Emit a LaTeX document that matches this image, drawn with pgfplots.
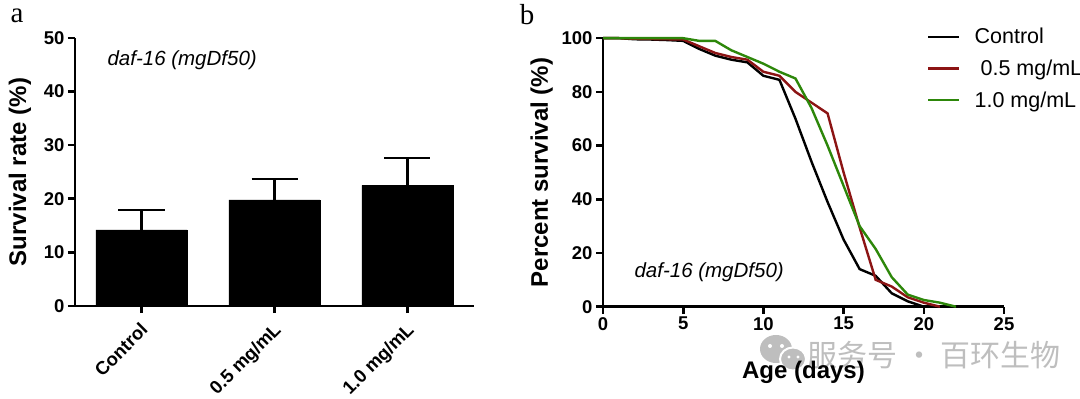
\documentclass[border=0pt]{standalone}
\usepackage{pgfplots}
\pgfplotsset{compat=1.18}
\usepackage{fontspec}
\setmainfont{Liberation Sans}
\newfontfamily\serifletter{Liberation Serif}
\newfontfamily\cjk{Noto Sans CJK SC}
\definecolor{cred}{RGB}{140,20,20}
\definecolor{cgreen}{RGB}{45,135,10}
\definecolor{wm}{RGB}{190,190,190}
\newcommand{\fs}[1]{\fontsize{#1}{#1}\selectfont}

\begin{document}
\begin{tikzpicture}[x=1pt,y=1pt]
\path[use as bounding box] (0pt,0pt) rectangle (1080pt,399pt);

% watermark (drawn first, behind the chart)
\fill[wm] (776pt,50pt) ellipse (16pt and 14pt);
\fill[wm, draw=white, line width=2pt] (793pt,40pt) ellipse (13pt and 11.5pt);
\fill[white] (770pt,53pt) circle (2pt) (782pt,53pt) circle (2pt) (789pt,42pt) circle (1.6pt) (798pt,42pt) circle (1.6pt);
\node[wm, font=\cjk\fs{30}, anchor=west] at (804pt,44pt) {服务号 · 百环生物};

\pgfplotsset{
  mystyle/.style={
    scale only axis,
    axis lines=left,
    axis line style={-, line width=2.6pt, black},
    tick style={line width=2.6pt, black},
    major tick length=7pt,
    tick align=outside,
    ticklabel style={font=\bfseries\fs{18.5}},
    /pgf/number format/assume math mode=true,
    label style={font=\bfseries\fs{24}},
  }
}

% ---------- panel a ----------
\begin{axis}[mystyle,
  at={(75pt,93pt)}, anchor=south west,
  width=399pt, height=268pt,
  xmin=-0.5, xmax=2.5, ymin=0, ymax=50,
  xtick={0,1,2}, xticklabels={Control,0.5 mg/mL,1.0 mg/mL},
  xticklabel style={rotate=45, anchor=north east, xshift=-4pt, yshift=-1pt},
  ytick={0,10,...,50},
  ylabel={Survival rate (\%)},
  ylabel style={yshift=6pt},
  clip=false,
]
\addplot[ybar, bar width=91pt, fill=black, draw=black,
  error bars/.cd, y dir=plus, y explicit, error mark=|,
  error bar style={line width=2.6pt, black},
  error mark options={line width=2.6pt, mark size=23pt, black}]
 coordinates {(0,14.2) +- (0,3.7) (1,19.8) +- (0,3.9) (2,22.5) +- (0,5.1)};
\end{axis}

% ---------- panel b ----------
\begin{axis}[mystyle,
  at={(603pt,92.3pt)}, anchor=south west,
  width=401pt, height=268.5pt,
  xmin=0, xmax=25, ymin=0, ymax=100,
  xtick={0,5,...,25}, ytick={0,20,...,100},
  xlabel={Age (days)}, ylabel={Percent survival (\%)},
  xlabel style={yshift=-24pt},
  ylabel style={yshift=2pt},
  clip=false,
  legend style={at={(rel axis cs:0.808,1.045)}, anchor=north west, draw=none, fill=none,
    font=\fs{21.5}, row sep=10.5pt, inner sep=0pt,
    /tikz/every odd column/.append style={column sep=12pt}},
  legend cell align=left,
  legend image code/.code={\draw[#1] (0pt,0pt) -- (31pt,0pt);},
]
\addplot[black, line width=2.4pt] coordinates {
(0,100) (1,100) (2,99.6) (3,99.5) (4,99.3) (5,99) (6,96) (7,93.5) (8,92) (9,91)
(10,86) (11,84.5) (12,70) (13,54) (14,39) (15,25) (16,14) (17,11.5) (18,5) (19,2) (20,0)};
\addlegendentry{Control}
\addplot[cred, line width=2.4pt] coordinates {
(0,100) (1,100) (2,99.8) (3,99.7) (4,99.6) (5,99.5) (6,97) (7,94.5) (8,93) (9,92)
(10,87.5) (11,86) (12,80) (13,76) (14,72) (15,50) (16,29.5) (17,10) (18,7.5) (19,3.5) (20,1.5) (21,0)};
\addlegendentry{\ 0.5 mg/mL}
\addplot[cgreen, line width=2.4pt] coordinates {
(0,100) (1,100) (2,100) (3,100) (4,100) (5,100) (6,99) (7,99) (8,95.5) (9,93)
(10,90.5) (11,87.5) (12,85) (13,74) (14,60) (15,45) (16,30) (17,21.5) (18,11) (19,4.5) (20,2.5) (21,1.5) (22,0)};
\addlegendentry{1.0 mg/mL}
\end{axis}

% panel letters and annotations
\node[font=\serifletter\fs{29}] at (17pt,383pt) {a};
\node[font=\serifletter\fs{29}] at (527pt,384pt) {b};
\node[font=\itshape\fs{20.5}, anchor=west] at (104pt,339pt) {daf-16 (mgDf50)};
\node[font=\itshape\fs{20.5}, anchor=west] at (631pt,126.5pt) {daf-16 (mgDf50)};
\end{tikzpicture}
\end{document}
